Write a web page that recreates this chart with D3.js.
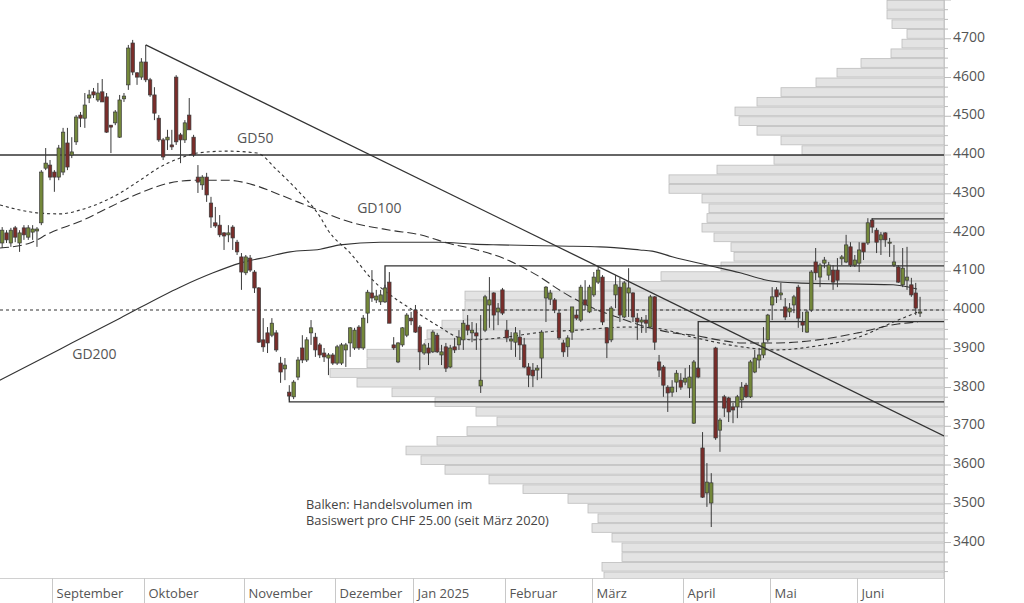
<!DOCTYPE html>
<html><head><meta charset="utf-8">
<script src="https://cdn.jsdelivr.net/npm/d3@7"></script>
<style>body{margin:0;background:#fff}svg{display:block}text{font-family:"Open Sans",sans-serif}</style>
</head><body><svg id="c" width="1024" height="603"></svg>
<script>
// ---- DATA ----
const monthLabels = ["September","Oktober","November","Dezember","Jan 2025","Februar","März","April","Mai","Juni"];
const monthStartIdx = [12,33,56,77,95,116,136,157,177,197];
const axisSlots = 217; // trading-day slots Aug 15 2024 .. Jun 30 2025
const priceTicks = [3400,3500,3600,3700,3800,3900,4000,4100,4200,4300,4400,4500,4600,4700];

const opens = [4173,4199,4173,4212,4173,4212,4188,4201,4204,4225,4366,4374,4356,4343,4356,4431,4400,4434,4503,4495,4547,4563,4542,4563,4550,4477,4483,4446,4545,4581,4689,4612,4601,4640,4594,4555,4495,4439,4439,4426,4601,4452,4439,4503,4446,4343,4323,4343,4276,4225,4219,4199,4194,4214,4175,4137,4096,4134,4098,4057,3923,3941,3935,3941,3863,3848,3788,3776,3827,3902,3871,3941,3930,3910,3889,3876,3884,3863,3863,3897,3915,3902,3956,3902,3992,4044,4026,4021,4021,4072,3910,3866,3910,3935,3979,4000,3956,3889,3902,3892,3935,3884,3905,3853,3905,3910,3923,3961,3941,3941,3804,3948,4013,4044,3995,4052,3948,3920,3917,3930,3910,3853,3845,3845,3876,4031,4028,4026,3992,3915,3905,3943,3987,3974,4026,3995,4039,4072,4085,3954,3923,4039,4059,3982,4044,4044,3979,3969,3974,3956,4034,3866,3853,3801,3788,3814,3819,3814,3799,3708,3850,3644,3528,3502,3902,3690,3776,3773,3750,3750,3768,3806,3776,3840,3871,3884,3923,4013,4052,4039,4008,3995,4013,4059,3969,3943,4000,4124,4085,4121,4090,4103,4103,4132,4124,4163,4116,4121,4173,4173,4232,4206,4181,4199,4173,4116,4111,4065,4077,4065,4044,3992];
const highs = [4214,4206,4212,4217,4206,4219,4219,4219,4214,4361,4418,4387,4361,4426,4470,4470,4446,4503,4511,4560,4568,4573,4586,4596,4560,4477,4516,4555,4560,4684,4697,4614,4650,4684,4599,4575,4503,4444,4465,4465,4606,4457,4490,4547,4452,4374,4348,4354,4292,4266,4245,4201,4219,4219,4181,4147,4142,4142,4103,4059,3979,3956,3979,3948,3879,3876,3806,3819,3879,3935,3930,3974,3941,3915,3902,3889,3889,3910,3915,3915,3956,3954,3961,3987,4052,4103,4052,4052,4065,4098,3930,3917,3956,3992,3995,4013,3961,3915,3915,3948,3941,3910,3915,3910,3928,3948,3974,3987,3969,3966,3987,4039,4085,4046,4018,4057,3974,3943,3956,3948,3928,3863,3863,3858,3948,4062,4052,4031,4000,3923,3935,4008,4000,4065,4077,4065,4098,4114,4090,3954,4010,4090,4083,4075,4108,4046,3992,3982,3987,4039,4036,3884,3858,3806,3819,3845,3837,3850,3858,3871,3853,3685,3605,3579,3905,3721,3781,3776,3760,3781,3814,3812,3871,3897,3902,3956,3990,4059,4059,4070,4031,4018,4039,4065,3995,4000,4103,4160,4121,4137,4124,4116,4134,4142,4194,4175,4142,4175,4173,4237,4237,4212,4201,4201,4186,4168,4116,4160,4163,4083,4070,4034];
const lows = [4160,4173,4163,4175,4150,4181,4181,4181,4163,4219,4361,4335,4305,4335,4348,4361,4392,4426,4472,4470,4534,4547,4537,4537,4457,4405,4477,4444,4537,4568,4606,4581,4594,4588,4550,4490,4434,4387,4413,4413,4426,4379,4431,4465,4395,4302,4310,4279,4212,4212,4188,4155,4175,4155,4142,4052,4090,4098,4044,3915,3892,3889,3930,3892,3812,3819,3768,3770,3819,3863,3866,3910,3879,3876,3866,3832,3858,3858,3858,3853,3879,3897,3897,3897,3966,4021,4018,4013,4018,3966,3897,3863,3905,3930,3961,3941,3845,3884,3858,3889,3889,3858,3840,3850,3889,3897,3897,3935,3917,3897,3786,3943,3954,3948,3961,3987,3917,3897,3879,3871,3850,3801,3801,3819,3824,3969,4013,3992,3923,3879,3879,3923,3974,3969,4000,3992,4034,4067,3961,3876,3917,4005,3969,3979,3982,3969,3923,3941,3941,3954,3897,3827,3776,3737,3776,3788,3794,3806,3773,3706,3824,3515,3492,3440,3665,3634,3724,3711,3708,3721,3747,3773,3773,3837,3850,3876,3917,3974,4018,4026,3974,3982,3992,3954,3943,3941,3995,4077,4059,4108,4077,4052,4059,4116,4121,4111,4111,4098,4129,4168,4199,4147,4142,4163,4137,4111,4070,4059,4052,4034,3987,3982];
const closes = [4206,4181,4206,4188,4199,4194,4212,4209,4209,4356,4379,4343,4343,4418,4459,4369,4408,4498,4495,4529,4555,4555,4560,4537,4459,4472,4511,4542,4552,4676,4614,4601,4640,4594,4555,4508,4439,4395,4446,4421,4434,4439,4483,4465,4400,4330,4343,4297,4240,4217,4194,4191,4199,4186,4150,4098,4137,4103,4057,3917,3905,3915,3966,3897,3840,3858,3778,3814,3871,3871,3923,3954,3897,3884,3879,3884,3863,3905,3910,3910,3954,3948,3902,3979,4046,4031,4036,4039,4057,3966,3902,3915,3954,3987,3972,3943,3892,3910,3889,3943,3892,3892,3850,3902,3897,3930,3966,3948,3948,3933,3819,4034,4026,3987,4005,3992,3928,3925,3941,3910,3853,3832,3830,3850,3943,4059,4044,4000,3928,3892,3928,4008,3979,4059,4013,4059,4085,4103,3969,3915,4005,4065,3987,4070,4057,3982,3969,3974,3966,4034,3917,3845,3806,3786,3801,3837,3801,3824,3827,3866,3827,3517,3556,3554,3670,3716,3747,3737,3742,3776,3801,3776,3866,3876,3884,3915,3987,4034,4034,4044,3982,4005,4034,3979,3961,3995,4098,4096,4116,4129,4116,4072,4077,4137,4168,4116,4129,4155,4150,4225,4214,4175,4194,4181,4175,4124,4072,4108,4085,4039,4005,3995];

// volume profile: lower bound of each CHF 25 bin and traded volume (relative units)
const volBins = [4775,4750,4725,4700,4675,4650,4625,4600,4575,4550,4525,4500,4475,4450,4425,4400,4375,4350,4325,4300,4275,4250,4225,4200,4175,4150,4125,4100,4075,4050,4025,4000,3975,3950,3925,3900,3875,3850,3825,3800,3775,3750,3725,3700,3675,3650,3625,3600,3575,3550,3525,3500,3475,3450,3425,3400,3375,3350,3325,3300];
const volValues = [57,57,52,37,42,53,83,107,128,163,187,209,205,187,163,142,170,227,275,275,242,235,237,242,230,213,210,223,283,344,479,479,481,502,517,519,577,577,614,587,552,509,468,447,477,507,538,523,499,455,421,376,356,346,352,332,322,322,342,340];

// moving averages (index, value)
const gd50Idx = [-0.5,4.1,8.7,13.3,17.9,22.5,27.1,31.7,36.3,40.9,44.8,51.7,58.6,63.2,67.8,73.1,74.9,80,85.2,90.8,94.4,100.6,104.6,108.2,114.4,124.3,132.1,143.6,149.5,159.5,168.7,177.9,187.1,196.3,205.5,210.5];
const gd50Val = [4271,4258,4250,4248,4258,4276,4302,4335,4369,4392,4405,4410,4405,4361,4310,4240,4206,4147,4077,4026,4000,3956,3930,3923,3928,3943,3948,3956,3954,3928,3907,3897,3907,3928,3972,3995];
const gd100Idx = [-0.5,6.4,11,18.6,24.8,31.7,38.6,44.8,51.7,57.7,63.9,71.5,80,89.2,96.1,102.3,109.2,115.1,122.9,128.9,135.8,142,148.2,154.2,159,164.6,170.1,178.3,187.5,196.7,205.9,210.5];
const gd100Val = [4160,4173,4199,4232,4266,4302,4328,4335,4335,4323,4297,4263,4227,4206,4194,4173,4155,4134,4090,4046,4005,3979,3956,3941,3935,3923,3915,3915,3923,3941,3964,3969];
const gd200Idx = [-0.5,13.3,27.1,40.9,48.5,54.7,60.9,66.2,73.1,77.7,86.9,100.6,108.2,114.4,128.2,137.4,146.6,149.4,154.2,162,169.6,175.8,182.7,204.8,210.3];
const gd200Val = [3819,3899,3979,4059,4096,4121,4137,4150,4157,4168,4175,4175,4170,4168,4165,4163,4155,4152,4137,4116,4096,4077,4070,4065,4054];

// horizontal reference lines / levels
const level4400 = 4400, level4000 = 4000;
const pivotLevels = [ // [pivot index, pivot price, level]
  [88, 4057, 4114],
  [66, 3778, 3763],
  [160, 3850, 3970],
  [200, 4227, 4235]
];
const trendLine = [[33, 4684],[216.5, 3675]];
const maLabels = [["GD50",54,4431],["GD100",81.6,4250],["GD200",16.1,3874]];
const noteLines = ["Balken: Handelsvolumen im","Basiswert pro CHF 25.00 (seit März 2020)"];

// ---- CHART ----
const svg = d3.select("#c");
const plotR = 944, plotB = 578;
const x = d3.scaleLinear().domain([-0.5, axisSlots - 0.5]).range([0, plotR]);
const y = d3.scaleLinear().domain([3310, 4800]).range([577.4, 0]);
const xVol = d3.scaleLinear().domain([0, 944]).range([plotR, 0]);

svg.append("defs").append("clipPath").attr("id","clip")
  .append("rect").attr("x",0).attr("y",0).attr("width",plotR).attr("height",plotB);
const g = svg.append("g").attr("clip-path","url(#clip)");

// volume profile
g.append("g").selectAll("rect").data(volBins).join("rect")
  .attr("x",(d,i)=>xVol(volValues[i]))
  .attr("width",(d,i)=>plotR - xVol(volValues[i]))
  .attr("y",d=>y(d+25)+0.5)
  .attr("height",d=>y(d)-y(d+25)-1)
  .attr("fill","#e3e3e3").attr("stroke","#bdbdbd").attr("stroke-width",0.8);

// horizontal lines
g.append("line").attr("x1",0).attr("x2",plotR).attr("y1",y(level4400)).attr("y2",y(level4400))
  .attr("stroke","#333").attr("stroke-width",1.3);
g.append("line").attr("x1",0).attr("x2",plotR).attr("y1",y(level4000)).attr("y2",y(level4000))
  .attr("stroke","#333").attr("stroke-width",1.2).attr("stroke-dasharray","3,3");
const pl = d3.line().x(d=>x(d[0])).y(d=>y(d[1]));
pivotLevels.forEach(p=>{
  g.append("path").attr("d",pl([[p[0],p[1]],[p[0],p[2]],[axisSlots-0.5,p[2]]]))
   .attr("fill","none").attr("stroke","#333").attr("stroke-width",1.3);
});

// moving averages
const ma = (idx,val)=>d3.line().curve(d3.curveMonotoneX).x(d=>x(d)).y((d,i)=>y(val[i]))(idx);
g.append("path").attr("d",ma(gd200Idx,gd200Val)).attr("fill","none").attr("stroke","#333").attr("stroke-width",1.1);
g.append("path").attr("d",ma(gd100Idx,gd100Val)).attr("fill","none").attr("stroke","#333").attr("stroke-width",1.1).attr("stroke-dasharray","9,4");
g.append("path").attr("d",ma(gd50Idx,gd50Val)).attr("fill","none").attr("stroke","#333").attr("stroke-width",1.1).attr("stroke-dasharray","3,3");

// candles
const cg = g.append("g");
const bw = 3.4;
opens.forEach((o,i)=>{
  const c = closes[i], up = c >= o;
  const cx = x(i);
  cg.append("line").attr("x1",cx).attr("x2",cx).attr("y1",y(highs[i])).attr("y2",y(lows[i]))
    .attr("stroke","#3a3a3a").attr("stroke-width",1);
  const top = y(Math.max(o,c)), bot = y(Math.min(o,c));
  cg.append("rect").attr("x",cx-bw/2).attr("y",top).attr("width",bw).attr("height",Math.max(1,bot-top))
    .attr("fill",up?"#74883a":"#7a2d2a").attr("stroke","#3a3a3a").attr("stroke-width",0.7);
});

// trend line
g.append("path").attr("d",pl(trendLine)).attr("fill","none").attr("stroke","#333").attr("stroke-width",1.3);

// MA labels
maLabels.forEach(l=>{
  svg.append("text").attr("x",x(l[1])).attr("y",y(l[2])).text(l[0])
    .attr("font-size",14).attr("fill","#555");
});
// note
noteLines.forEach((t,i)=>{
  svg.append("text").attr("x",306).attr("y",509+i*16).text(t).attr("font-size",12.8).attr("fill","#444");
});

// right axis
svg.append("line").attr("x1",plotR+0.5).attr("x2",plotR+0.5).attr("y1",0).attr("y2",603).attr("stroke","#c8c8c8");
const minor = d3.range(3325,4801,25);
svg.append("g").selectAll("line").data(minor).join("line")
  .attr("x1",plotR).attr("x2",d=>plotR+(d%100===0?7:4)).attr("y1",d=>y(d)).attr("y2",d=>y(d))
  .attr("stroke","#bbb");
svg.append("g").selectAll("text").data(priceTicks).join("text")
  .attr("x",953).attr("y",d=>y(d)).attr("dy","0.22em").text(d=>d)
  .attr("font-size",14).attr("fill","#555");

// bottom axis
svg.append("line").attr("x1",0).attr("x2",plotR).attr("y1",plotB+0.5).attr("y2",plotB+0.5).attr("stroke","#d0d0d0");
monthStartIdx.forEach((m,i)=>{
  const bx = Math.round(x(m-0.5))+0.5;
  svg.append("line").attr("x1",bx).attr("x2",bx).attr("y1",plotB).attr("y2",603).attr("stroke","#c8c8c8");
  svg.append("text").attr("x",bx+4).attr("y",598).text(monthLabels[i]).attr("font-size",13).attr("fill","#555");
});
</script></body></html>
